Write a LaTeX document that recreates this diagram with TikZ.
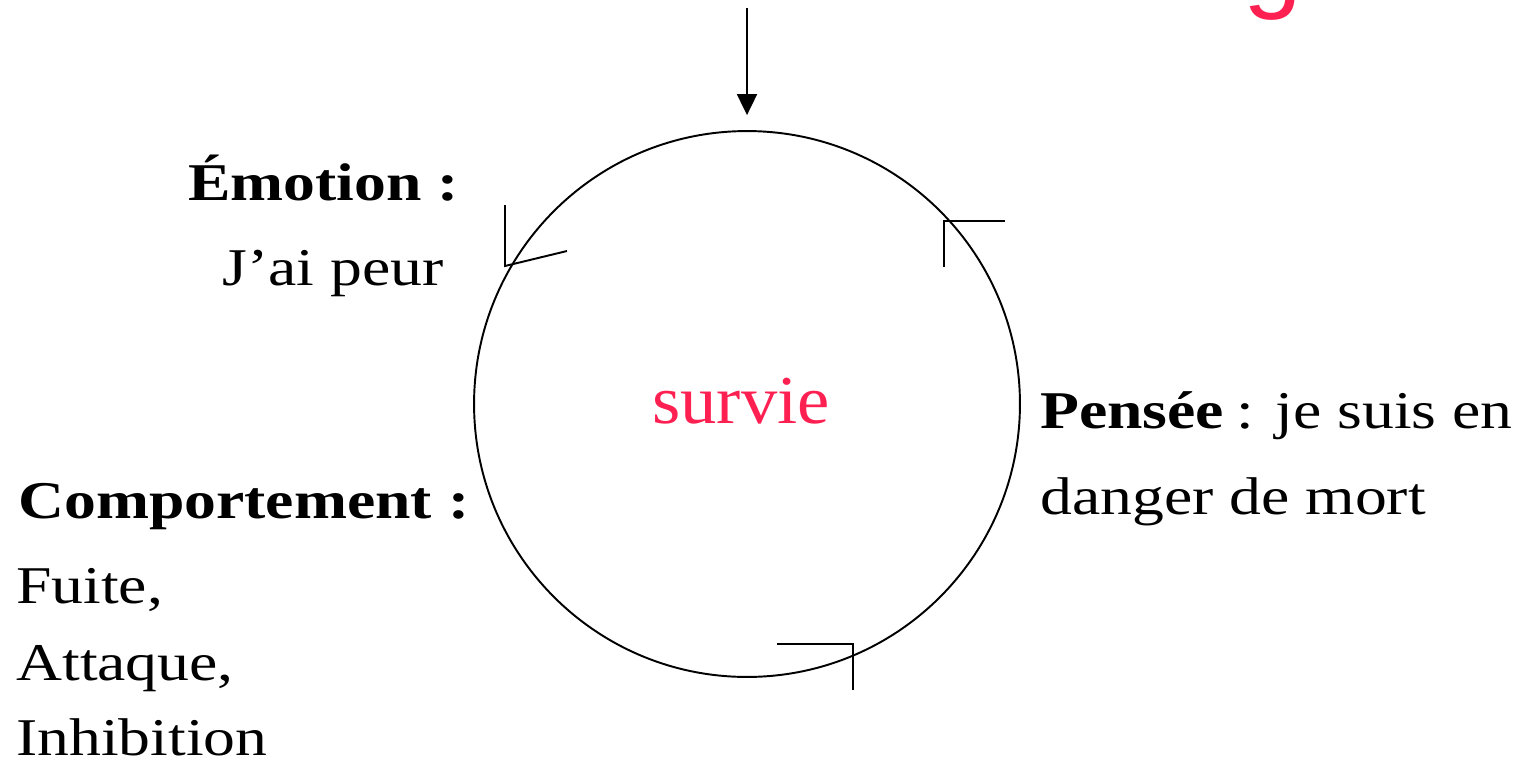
\documentclass[tikz,border=0pt]{standalone}
\usepackage{fontspec}
\setmainfont{Liberation Serif}[FakeStretch=1.2]
\newfontfamily\coreFont{Liberation Serif}[FakeStretch=1.06]
\newfontfamily\titleFont{Liberation Sans}
\usetikzlibrary{arrows.meta, calc}

\begin{document}
\begin{tikzpicture}[x=0.02cm, y=-0.02cm,
    textLabel/.style={inner sep=0pt, anchor=base west, font=\fontsize{30.2}{36}\selectfont},
    tickLine/.style={line width=1.1pt}]

    \definecolor{borderColour}{HTML}{000000}
    \definecolor{survieColour}{HTML}{FF2052}

    % Fix page size
    \useasboundingbox (0,0) rectangle (1520,761);
    \clip (0,0) rectangle (1520,761);

    % Title, cut off at the top
    \node[font=\titleFont\fontsize{60}{60}\selectfont, text=survieColour, anchor=base, inner sep=0pt] (title) at (1273,-2) {g};

    % Draw the cycle
    \node[draw=borderColour, circle, minimum size=10.92cm, inner sep=0pt, line width=1.1pt] (cycle) at (747,404) {};
    \node[font=\coreFont\fontsize{39}{45}\selectfont, text=survieColour, anchor=base, inner sep=0pt] (core) at (741,423) {survie};

    % Trigger arrow
    \coordinate (trigger) at (747,8);
    \draw[draw=borderColour, line width=1.1pt, -{Triangle[length=0.42cm,width=0.4cm]}, shorten >=0.3cm] (trigger) -- (cycle.north);

    % Define coordinates for the corner marks
    \coordinate (A) at (505,205);
    \coordinate (B) at (505,266);
    \coordinate (C) at (567,251);
    \coordinate (D) at (1005,221);
    \coordinate (E) at (944,221);
    \coordinate (F) at (944,267);
    \coordinate (G) at (777,644);
    \coordinate (H) at (853,644);
    \coordinate (I) at (853,690);

    % Draw the corner marks
    \draw[tickLine] (A) -- (B) -- (C);
    \draw[tickLine] (D) -- (E) -- (F);
    \draw[tickLine] (G) -- (H) -- (I);

    % Labels
    \node[textLabel] (emotionHead) at (188,200) {\textbf{Émotion :}};
    \node[textLabel] (emotionBody) at (222,285) {J’ai peur};
    \node[textLabel] (behaviourHead) at (18,518) {\textbf{Comportement :}};
    \node[textLabel] (behaviourFlee) at (16,603) {Fuite,};
    \node[textLabel] (behaviourAttack) at (16,680) {Attaque,};
    \node[textLabel] (behaviourFreeze) at (16,755) {Inhibition};
    \node[textLabel] (thoughtHead) at (1040,428) {\textbf{Pensée}\hspace{-2pt} : je suis en};
    \node[textLabel] (thoughtBody) at (1040,514) {danger de mort};

\end{tikzpicture}
\end{document}
